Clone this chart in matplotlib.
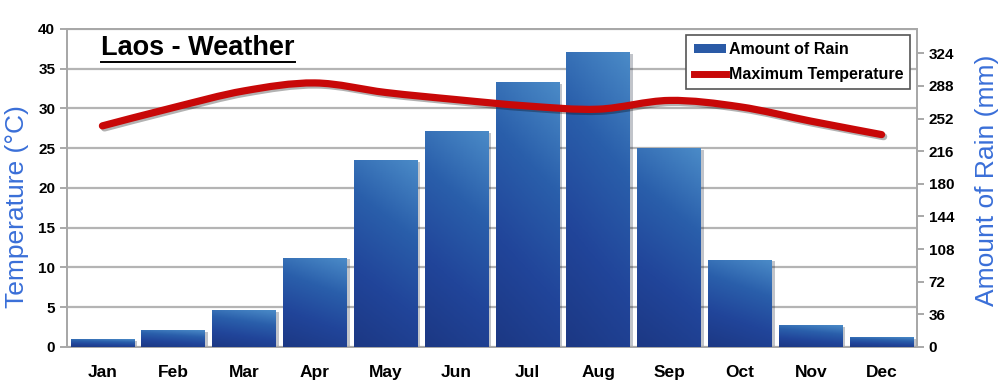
import numpy as np
import matplotlib.pyplot as plt
import matplotlib.patheffects as pe
from matplotlib.path import Path
from matplotlib.patches import PathPatch, Rectangle
from matplotlib.lines import Line2D
from matplotlib.colors import LinearSegmentedColormap

plt.rcParams['font.family'] = ['Liberation Sans', 'DejaVu Sans']

# data
months = ['Jan', 'Feb', 'Mar', 'Apr', 'May', 'Jun', 'Jul', 'Aug', 'Sep', 'Oct', 'Nov', 'Dec']
rain_mm = [8, 18, 40, 98, 206, 238, 292, 325, 219, 96, 24, 10]
max_temp = [27.8, 30.1, 32.2, 33.2, 32.0, 31.1, 30.3, 29.9, 31.0, 30.2, 28.4, 26.7]
temp_ticks = [0, 5, 10, 15, 20, 25, 30, 35, 40]
rain_ticks = [0, 36, 72, 108, 144, 180, 216, 252, 288, 324]

fig = plt.figure(figsize=(10, 3.85), dpi=100)
ax = fig.add_axes([0.067, 0.099, 0.85, 0.826])
ax2 = ax.twinx()

x = np.arange(len(months))
blue = LinearSegmentedColormap.from_list('bars', ['#1c3884', '#21459a', '#2a5fab', '#4a8ac7'])

# left axis: temperature, grid behind everything
ax.set_xlim(-0.5, 11.5)
ax.set_ylim(0, 40)
ax.set_yticks(temp_ticks)
ax.yaxis.grid(True, color='#b4b4b4', linewidth=1.6)
ax.set_axisbelow(True)
ax.set_xticks(x)
ax.set_xticklabels(months, fontsize=12.5, fontweight='bold')
ax.tick_params(axis='x', length=0, pad=13)
ax.tick_params(axis='y', labelsize=11, length=5, color='#999999', width=1.2)
for lbl in ax.get_yticklabels():
    lbl.set_fontweight('bold')
ax.set_ylabel('Temperature (°C)', color='#3a6fd8', fontsize=19)
ax.yaxis.set_label_coords(-0.045, 0.44)

# right axis: rain bars with a gradient fill
bars = ax2.bar(x, rain_mm, width=0.9, color='#23489a', zorder=2,
               path_effects=[pe.SimplePatchShadow(offset=(2, -1), alpha=0.25), pe.Normal()])
grad = np.linspace(0, 1, 100).reshape(-1, 1) * np.ones((1, 20))
grad = grad + np.linspace(0, 0.25, 20)[None, :]
for b in bars:
    x0, w, h = b.get_x(), b.get_width(), b.get_height()
    ax2.imshow(grad, extent=[x0, x0 + w, 0, h], origin='lower', aspect='auto',
               cmap=blue, vmin=0, vmax=1.25, zorder=3)
ax2.set_xlim(-0.5, 11.5)
ax2.set_ylim(0, 351)
ax2.set_yticks(rain_ticks)
ax2.tick_params(axis='y', labelsize=11, length=5, color='#999999', width=1.2)
for lbl in ax2.get_yticklabels():
    lbl.set_fontweight('bold')
ax2.set_ylabel('Amount of Rain (mm)', color='#3a6fd8', fontsize=19)
ax2.yaxis.set_label_coords(1.068, 0.525)

for a in (ax, ax2):
    for s in a.spines.values():
        s.set_color('#a8a8a8')
        s.set_linewidth(1.4)

# smoothed temperature line (Catmull-Rom as cubic Bezier)
pts = np.column_stack([x, max_temp]).astype(float)
verts = [pts[0]]
codes = [Path.MOVETO]
for i in range(len(pts) - 1):
    p0 = pts[i - 1] if i > 0 else pts[i]
    p1, p2 = pts[i], pts[i + 1]
    p3 = pts[i + 2] if i + 2 < len(pts) else pts[i + 1]
    verts += [p1 + (p2 - p0) / 6, p2 - (p3 - p1) / 6, p2]
    codes += [Path.CURVE4] * 3
line = PathPatch(Path(verts, codes), transform=ax.transData, fill=False,
                 edgecolor='#c80808', linewidth=5.2, capstyle='round', zorder=5,
                 path_effects=[pe.SimpleLineShadow(offset=(1.5, -1.5), alpha=0.3), pe.Normal()])
ax2.add_patch(line)

# legend
handles = [Rectangle((0, 0), 1, 1, facecolor='#2a5aa6'),
           Line2D([0], [0], color='#c80808', linewidth=5)]
leg = ax2.legend(handles, ['Amount of Rain', 'Maximum Temperature'], loc='upper right',
                 bbox_to_anchor=(0.996, 0.99), fancybox=False, framealpha=1,
                 prop={'weight': 'bold', 'size': 11.5}, handlelength=2.0, handleheight=0.5,
                 handletextpad=0.2, borderpad=0.45, labelspacing=0.6, borderaxespad=0.2)
leg.get_frame().set_edgecolor('#555555')
leg.get_frame().set_linewidth(1.2)
leg.set_zorder(10)

# title with underline
title = fig.text(0.101, 0.876, 'Laos - Weather', fontsize=19.5, fontweight='bold',
                 ha='left', va='center')
fig.canvas.draw()
bb = title.get_window_extent().transformed(fig.transFigure.inverted())
fig.add_artist(Line2D([bb.x0, bb.x1], [bb.y0 - 0.004, bb.y0 - 0.004], color='black', linewidth=1.4))

fig.savefig('out.png', dpi=100)
